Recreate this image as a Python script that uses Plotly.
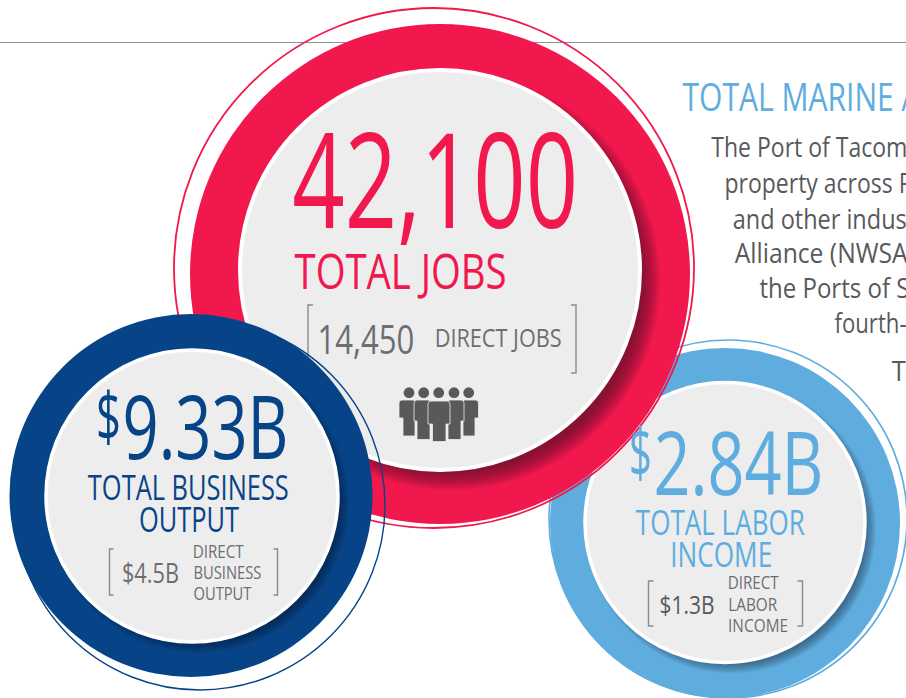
import json
import plotly.graph_objects as go

W, H = 906, 698
FONT = "Open Sans, Noto Sans, sans-serif"
RED, NAVY, SKY = "#F0184C", "#074487", "#5FADDF"
PANEL, DARK, MID, RULE = "#EDEDEE", "#58595B", "#6D6E71", "#8A8C8E"

# circles: (cx, cy, radius)
red_ring = (440, 274, 250)
red_thin = (434, 268, 260)
red_panel = (440, 270, 200)
navy_ring = (191, 495.5, 181.5)
navy_thin = (200, 505, 185)
navy_panel = (192, 496, 146)
sky_ring = (725, 523, 175)
sky_thin = (728, 519, 179)
sky_panel = (725, 522.5, 140)

# brackets: left x, right x, top y, bottom y
red_bracket = (308, 576, 305, 373)
navy_bracket = (109.5, 277.5, 549, 595)
sky_bracket = (648.5, 802.5, 581, 626)

# people icon
head_x = [409, 423.7, 438.7, 454, 468.7]
head_y = 392.7
# shoulder left/right, leg left/right, top, arm bottom, bottom
bodies = [
    (399, 416, 403, 415, 400, 418, 436),
    (462, 478.5, 463, 475, 400, 418, 436),
    (414, 431, 417, 430, 400, 421, 439.5),
    (447, 464, 448, 461, 400, 421, 439.5),
    (428, 450, 432.5, 446, 401, 424, 441.5),
]

# text: content, left x, right x, y centre, size, colour
texts = [
    ("42,100", 292, 578, 177, 131, RED),
    ("TOTAL JOBS", 294, 506, 270, 49, RED),
    ("14,450", 317, 414, 338, 41, MID),
    ("DIRECT JOBS", 434, 561, 337, 26, MID),
    ("$", 96, 121, 414, 68, NAVY),
    ("9.33B", 122, 288, 425, 88, NAVY),
    ("TOTAL BUSINESS", 88, 289, 487, 34, NAVY),
    ("OUTPUT", 139, 239, 519, 34, NAVY),
    ("$4.5B", 122, 179, 572, 27, MID),
    ("DIRECT", 193, 244, 551, 18, MID),
    ("BUSINESS", 193, 261, 572, 18, MID),
    ("OUTPUT", 193, 251, 593, 18, MID),
    ("$", 629, 652, 450, 68, SKY),
    ("2.84B", 653, 823, 461, 88, SKY),
    ("TOTAL LABOR", 636, 805, 522, 34, SKY),
    ("INCOME", 670, 772, 554, 34, SKY),
    ("$1.3B", 659, 714, 604, 26, DARK),
    ("DIRECT", 728, 779, 582, 18, MID),
    ("LABOR", 728, 777, 604, 18, MID),
    ("INCOME", 728, 788, 625, 18, MID),
    ("TOTAL MARINE A", 682, 920, 96, 38, SKY),
    ("The Port of Tacom", 711, 907, 146, 28, DARK),
    ("property across P", 724, 912, 182, 28, DARK),
    ("and other indus", 732, 906, 218, 28, DARK),
    ("Alliance (NWSA", 735, 908, 252, 28, DARK),
    ("the Ports of S", 759, 909, 287, 28, DARK),
    ("fourth-", 834, 906, 322, 28, DARK),
    ("T", 892, 906, 370, 28, DARK),
]


def circle(c, fill="rgba(0,0,0,0)", line=None, lw=0, opacity=1, dx=0, dy=0, grow=0):
    cx, cy, r = c
    r += grow
    return dict(
        type="circle", xref="x", yref="y", layer="above",
        x0=cx + dx - r, x1=cx + dx + r, y0=cy + dy - r, y1=cy + dy + r,
        fillcolor=fill, opacity=opacity,
        line=dict(color=line or "rgba(0,0,0,0)", width=lw),
    )


def shadow(panel, off, spread, tint, alpha, n=14):
    out = []
    for i in range(n):
        g = spread - 2 * spread * i / (n - 1)
        out.append(circle(panel, fill=tint, opacity=alpha, dx=off, dy=off, grow=g))
    return out


def bracket(b, tick=5, color=RULE):
    l, r, t, bt = b
    return [
        dict(type="path", path=f"M {l+tick} {t} L {l} {t} L {l} {bt} L {l+tick} {bt}",
             xref="x", yref="y", layer="above", line=dict(color=color, width=1.4)),
        dict(type="path", path=f"M {r-tick} {t} L {r} {t} L {r} {bt} L {r-tick} {bt}",
             xref="x", yref="y", layer="above", line=dict(color=color, width=1.4)),
    ]


shapes = [dict(type="line", xref="x", yref="y", layer="above", x0=0, x1=W, y0=42.5, y1=42.5,
               line=dict(color="#8F9092", width=1))]

# light blue group (lowest)
shapes += [circle(sky_thin, line=SKY, lw=1.6), circle(sky_ring, fill=SKY)]
shapes += shadow(sky_panel, 6, 5, "#1E3A55", 0.05)
shapes += [circle(sky_panel, fill=PANEL, line="white", lw=3.5)]
shapes += bracket(sky_bracket)

# red group
shapes += [circle(red_thin, line=RED, lw=1.8), circle(red_ring, fill=RED)]
shapes += shadow(red_panel, 11, 9, "#3A1020", 0.055)
shapes += [circle(red_panel, fill=PANEL, line="white", lw=4)]
shapes += bracket(red_bracket)

# people icon
for sl, sr, ll, lr, top, arm, bot in bodies:
    path = (f"M {sl+3} {top} L {sr-3} {top} Q {sr} {top} {sr} {top+3} L {sr} {arm} "
            f"L {lr} {arm} L {lr} {bot} L {ll} {bot} L {ll} {arm} L {sl} {arm} L {sl} {top+3} "
            f"Q {sl} {top} {sl+3} {top} Z")
    shapes.append(dict(type="path", path=path, xref="x", yref="y", layer="above",
                       fillcolor=DARK, line=dict(color=PANEL, width=0.8)))
for hx in head_x:
    shapes.append(circle((hx, head_y, 5.4), fill=DARK))

# navy group (on top)
shapes += [circle(navy_thin, line=NAVY, lw=1.4), circle(navy_ring, fill=NAVY)]
shapes += shadow(navy_panel, 6, 5, "#10233F", 0.06)
shapes += [circle(navy_panel, fill=PANEL, line="white", lw=3.5)]
shapes += bracket(navy_bracket, tick=4)

annotations = [
    dict(text=t, x=(l + r) / 2, y=y, xref="x", yref="y", showarrow=False, xanchor="center",
         yanchor="middle", font=dict(family=FONT, size=s, color=c), borderpad=0, borderwidth=0)
    for t, l, r, y, s, c in texts
]

fig = go.Figure()
fig.update_layout(
    width=W, height=H, margin=dict(l=0, r=0, t=0, b=0), autosize=False,
    paper_bgcolor="white", plot_bgcolor="white", showlegend=False,
    xaxis=dict(range=[0, W], visible=False, fixedrange=True),
    yaxis=dict(range=[H, 0], visible=False, fixedrange=True),
    shapes=shapes, annotations=annotations,
)

widths = json.dumps([r - l for _, l, r, _, _, _ in texts])
squeeze = (
    "document.body.style.margin='0';"
    "document.documentElement.style.overflow='hidden';document.body.style.overflow='hidden';"
    f"var ws={widths};"
    "var fit=function(){document.querySelectorAll('.annotation').forEach(function(a){"
    "var i=+a.getAttribute('data-index');var t=a.querySelector('text');"
    "if(t){t.setAttribute('textLength',ws[i]);t.setAttribute('lengthAdjust','spacingAndGlyphs');}});};"
    "fit();setTimeout(fit,100);"
)
fig.write_html("out.html", config={"displayModeBar": False}, post_script=squeeze)
